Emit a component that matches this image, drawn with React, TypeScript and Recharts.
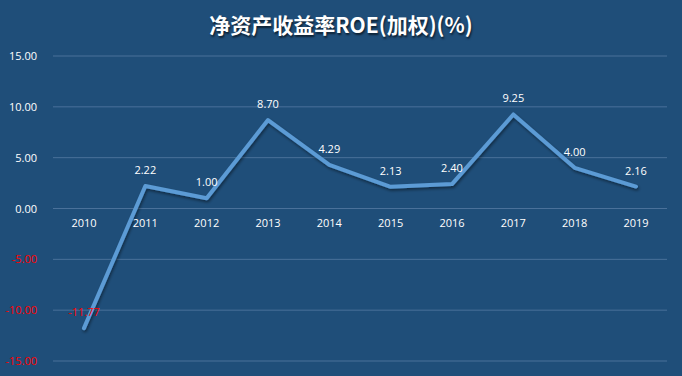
import React from "react";
import { LineChart, Line, XAxis, YAxis, CartesianGrid, LabelList } from "recharts";

const years = ["2010", "2011", "2012", "2013", "2014", "2015", "2016", "2017", "2018", "2019"];
const roe = [-11.77, 2.22, 1.0, 8.7, 4.29, 2.13, 2.4, 9.25, 4.0, 2.16];
const yTicks = [-15, -10, -5, 0, 5, 10, 15];

const data = years.map((y, i) => ({ year: y, roe: roe[i], zero: 0 }));

const FONT = "'Open Sans', 'Noto Sans', sans-serif";

const YTick = (props: any) => {
  const { x, y, payload } = props;
  const v = payload.value as number;
  return (
    <text x={x - 2} y={y} dy={4} textAnchor="end" fontSize={11} fontFamily={FONT} fill={v < 0 ? "#FF0000" : "#FFFFFF"}>
      {v.toFixed(2)}
    </text>
  );
};

const ValueLabel = (props: any) => {
  const { x, y, value } = props;
  const v = value as number;
  return (
    <text x={x} y={y - 12} textAnchor="middle" fontSize={11} fontFamily={FONT} fill={v < 0 ? "#FF0000" : "#FFFFFF"}>
      {v.toFixed(2)}
    </text>
  );
};

const YearLabel = (props: any) => {
  const { x, y, index } = props;
  return (
    <text x={x} y={y + 18} textAnchor="middle" fontSize={11} fontFamily={FONT} fill="#FFFFFF">
      {years[index]}
    </text>
  );
};

export default function App() {
  return (
    <div style={{ position: "fixed", left: 0, top: 0, width: 682, height: 376, background: "#1F4E79" }}>
      <div
        style={{
          position: "absolute",
          left: 0,
          top: 8,
          width: 682,
          textAlign: "center",
          color: "#FFFFFF",
          fontFamily: "'Noto Sans CJK SC', sans-serif",
          fontWeight: 700,
          fontSize: 21,
          lineHeight: "32px",
          textShadow: "1px 2px 2px rgba(0,0,0,0.6)",
        }}
      >
        净资产收益率ROE(加权)(%)
      </div>
      <LineChart width={682} height={376} data={data} margin={{ top: 56, right: 15, bottom: 15, left: 0 }}>
        <defs>
          <filter id="shadow" x="-10%" y="-10%" width="120%" height="130%">
            <feDropShadow dx="1" dy="2" stdDeviation="1.5" floodColor="#000" floodOpacity="0.45" />
          </filter>
        </defs>
        <CartesianGrid vertical={false} stroke="#4A719A" strokeWidth={1} />
        <XAxis dataKey="year" hide padding={{ left: 31, right: 31 }} />
        <YAxis
          domain={[-15, 15]}
          ticks={yTicks}
          width={53}
          axisLine={false}
          tickLine={false}
          tick={<YTick />}
          tickMargin={8}
          interval={0}
        />
        <Line dataKey="zero" stroke="none" dot={false} isAnimationActive={false}>
          <LabelList dataKey="zero" content={<YearLabel />} />
        </Line>
        <Line
          dataKey="roe"
          stroke="#5B9BD5"
          strokeWidth={4}
          strokeLinecap="round"
          strokeLinejoin="round"
          dot={false}
          isAnimationActive={false}
          filter="url(#shadow)"
        >
          <LabelList dataKey="roe" content={<ValueLabel />} />
        </Line>
      </LineChart>
    </div>
  );
}
